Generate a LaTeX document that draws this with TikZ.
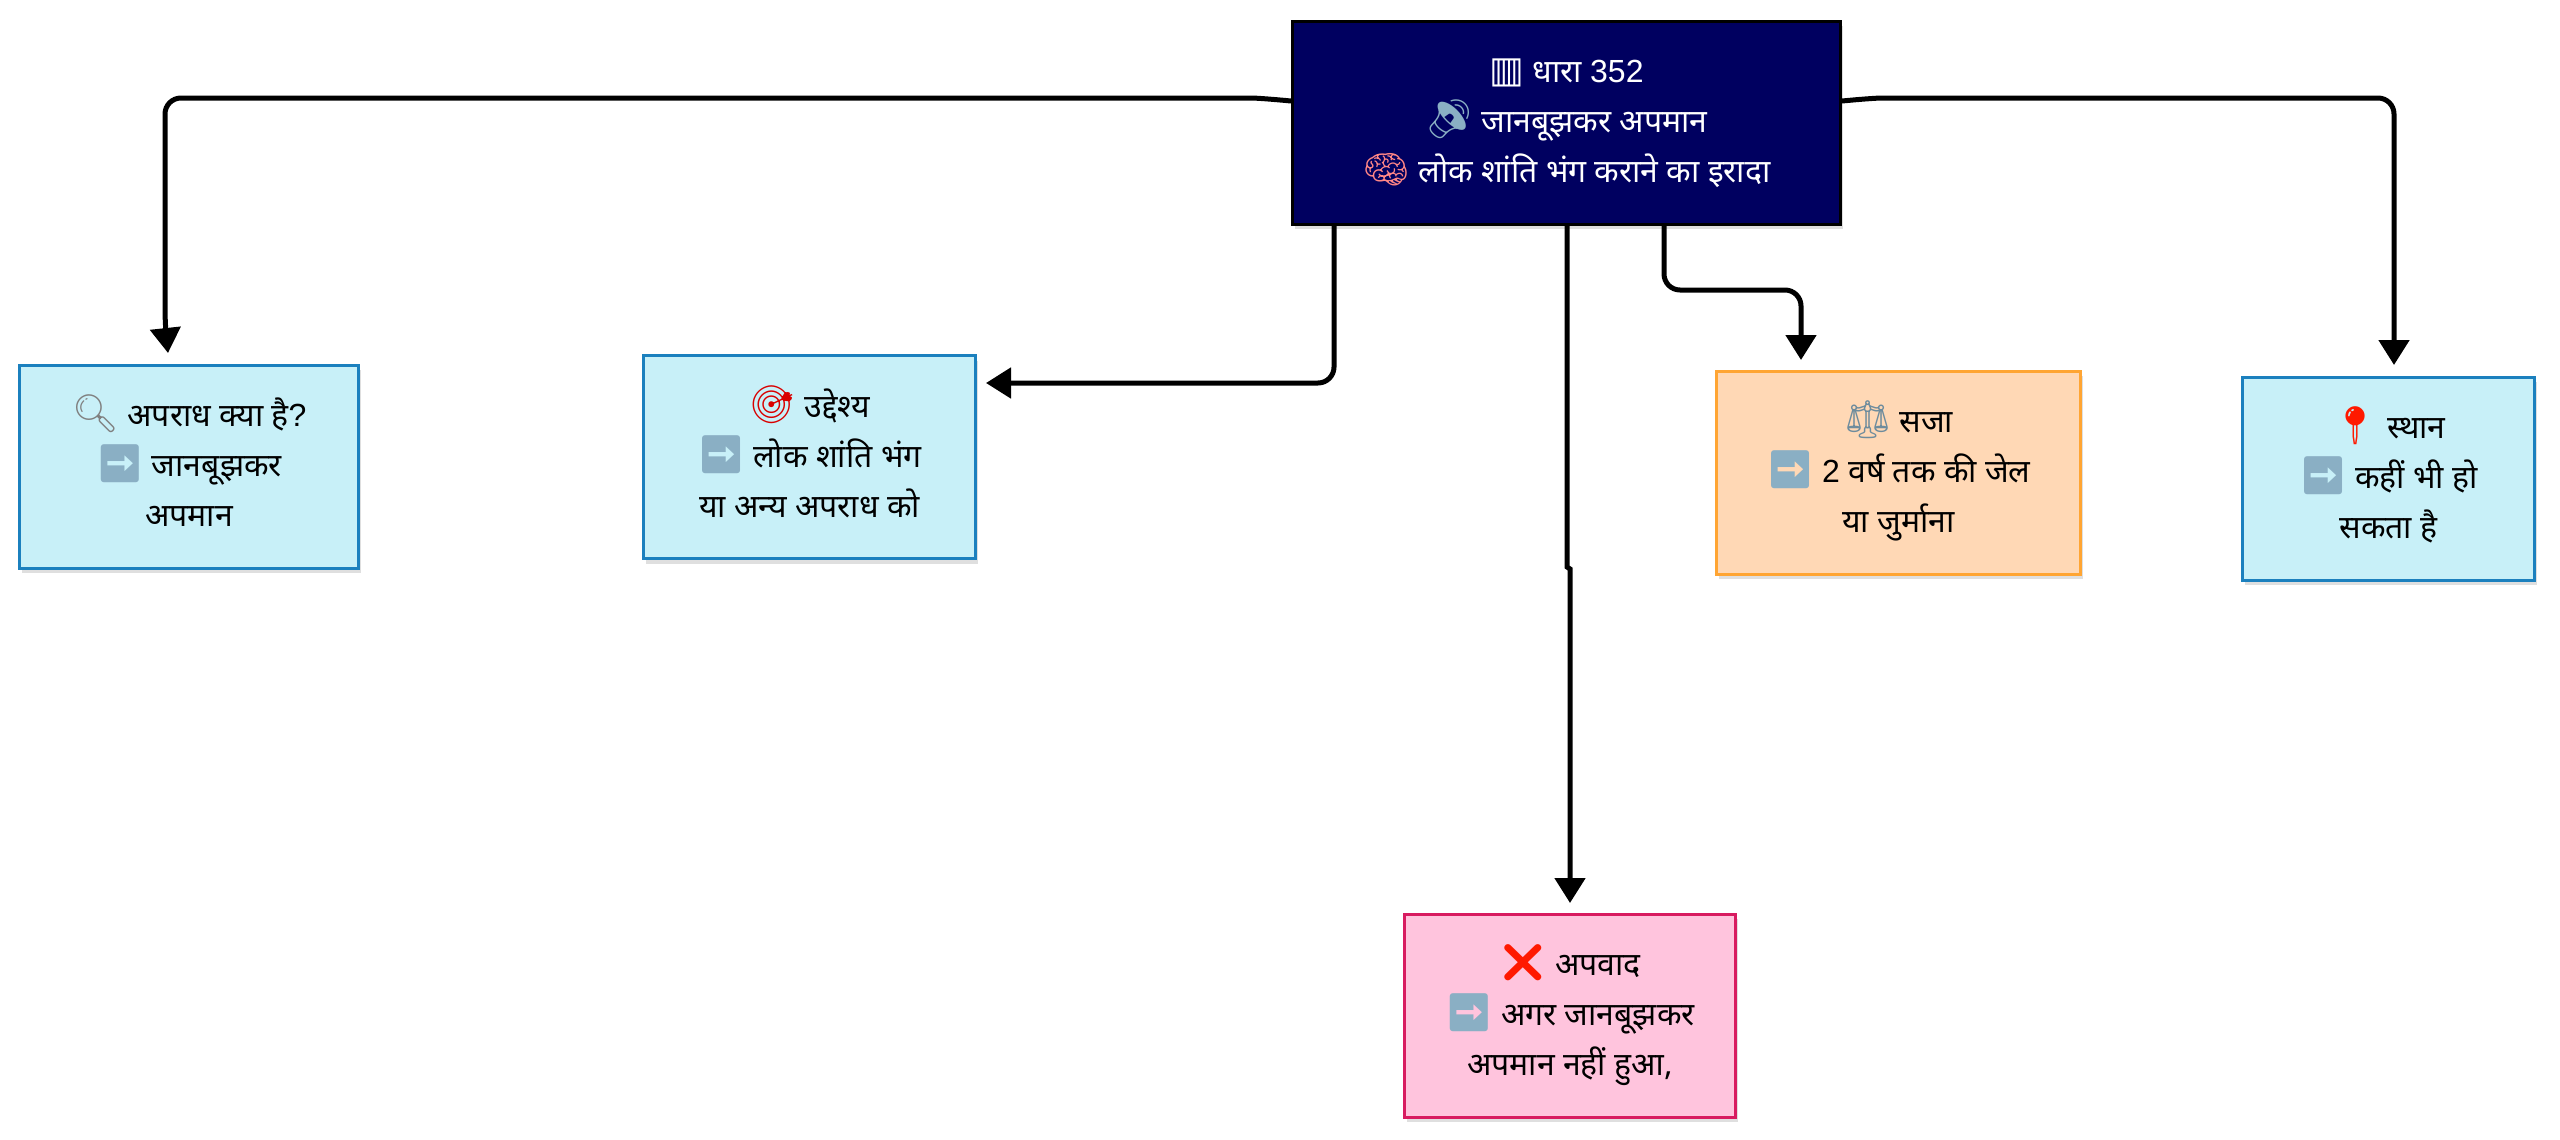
\documentclass[tikz,border=0pt]{standalone}
\usepackage{fontspec}
\usetikzlibrary{arrows.meta,shadows}
\setmainfont{Liberation Sans}
\newfontfamily\hindi[Script=Devanagari]{Noto Sans}
\newfontfamily\emojifont[Scale=1.17]{Noto Emoji}
\newfontfamily\symbfont[Scale=1.15]{DejaVu Sans}
\definecolor{navyfill}{HTML}{000060}
\definecolor{bluefill}{HTML}{C8F0F8}
\definecolor{blueline}{HTML}{1B80BE}
\definecolor{orangefill}{HTML}{FFD8B5}
\definecolor{orangeline}{HTML}{FFA533}
\definecolor{pinkfill}{HTML}{FFC4DD}
\definecolor{pinkline}{HTML}{D81B60}
\definecolor{arrowkey}{HTML}{8AAFC4}
\newcommand{\emo}[2]{{\emojifont\textcolor{#1}{#2}}}
\newcommand{\keyarrow}{\emo{arrowkey}{➡}}
\newcommand{\cardfont}{\hindi\fontsize{16}{25}\selectfont\lineskiplimit=-20pt\relax}
% same height for every box of text, whatever its glyphs
\newcommand{\firststrut}{\rule{0pt}{20pt}}
\newcommand{\laststrut}{\rule[-10pt]{0pt}{10pt}}
\tikzset{
    card/.style={draw, line width=1.5pt, align=center, text=black,
        font=\cardfont, minimum height=101.5pt, inner sep=0pt,
        drop shadow={opacity=0.25, shadow xshift=1pt, shadow yshift=-2.5pt}},
    bluecard/.style={card, fill=bluefill, draw=blueline},
    orangecard/.style={card, fill=orangefill, draw=orangeline},
    pinkcard/.style={card, fill=pinkfill, draw=pinkline},
    rootcard/.style={card, fill=navyfill, draw=black, text=white},
    conn/.style={draw, line width=2.5pt, rounded corners=8pt,
        -{Triangle[length=12.5pt, width=15pt]}},
}
\begin{document}
\begin{tikzpicture}[x=0.5pt, y=-0.5pt]
    \useasboundingbox (0, 0) rectangle (2560, 1140);

    \node[rootcard, minimum width=274pt] (root) at (1566.5, 122.5)
        {\firststrut{\symbfont ▥} धारा {\fontspec{Liberation Sans}352}\\\emo{arrowkey}{🔊} जानबूझकर अपमान\\\laststrut\emo{pink!70!red}{🧠} लोक शांति भंग कराने का इरादा};
    \node[bluecard, minimum width=169.5pt] (crime) at (189, 466.5)
        {\firststrut\emo{gray}{🔍} अपराध क्या है{\fontspec{Liberation Sans}?}\\\keyarrow{} जानबूझकर\\\laststrut अपमान};
    \node[bluecard, minimum width=166pt] (aim) at (809.5, 457)
        {\firststrut\emo{red!85!black}{🎯} उद्देश्य\\\keyarrow{} लोक शांति भंग\\\laststrut या अन्य अपराध को};
    \node[orangecard, minimum width=182pt] (penalty) at (1898.5, 472.5)
        {\firststrut\emo{arrowkey!80!black}{⚖} सजा\\\keyarrow{} {\fontspec{Liberation Sans}2} वर्ष तक की जेल\\\laststrut या जुर्माना};
    \node[bluecard, minimum width=146pt] (place) at (2388.5, 478.5)
        {\firststrut\emo{red!80!orange}{📍} स्थान\\\keyarrow{} कहीं भी हो\\\laststrut सकता है};
    \node[pinkcard, minimum width=165.5pt] (except) at (1570, 1015.5)
        {\firststrut\emo{red!80!orange}{❌} अपवाद\\\keyarrow{} अगर जानबूझकर\\\laststrut अपमान नहीं हुआ,};

    % free ends stop short of the boxes
    \coordinate (rootl) at (1291, 101);
    \coordinate (rootr) at (1842, 101);
    \coordinate (rootb) at (1334, 225);
    \coordinate (rootm) at (1567, 225);
    \coordinate (rootc) at (1664, 225);
    \coordinate (crimeend) at (168, 353);
    \coordinate (aimend) at (986, 383);
    \coordinate (exceptend) at (1570, 903);
    \coordinate (penaltyend) at (1801, 360);
    \coordinate (placeend) at (2394, 365);

    \draw[conn] (rootl) .. controls (1270, 99) and (1255, 98) .. (1235, 98) -- (165, 98) -- (165, 325) -- (crimeend);
    \draw[conn] (rootb) -- (1334, 383) -- (aimend);
    \draw[conn, rounded corners=0pt] (rootm) -- (1567, 567) -- (1570, 569) -- (exceptend);
    \draw[conn] (rootc) -- (1664, 290) -- (1801, 290) -- (penaltyend);
    \draw[conn] (rootr) .. controls (1863, 99) and (1878, 98) .. (1898, 98) -- (2394, 98) -- (placeend);
\end{tikzpicture}
\end{document}
